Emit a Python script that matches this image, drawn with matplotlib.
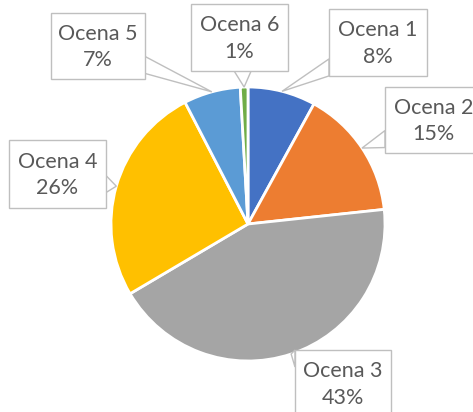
import numpy as np
import matplotlib
matplotlib.use('Agg')
import matplotlib.pyplot as plt
from matplotlib.patches import Rectangle, Polygon

# dane
labels = ['Ocena 1', 'Ocena 2', 'Ocena 3', 'Ocena 4', 'Ocena 5', 'Ocena 6']
values = [8.0, 15.3, 43.2, 25.9, 6.7, 0.9]
colors = ['#4472C4', '#ED7D31', '#A5A5A5', '#FFC000', '#5B9BD5', '#70AD47']

# ramki etykiet w pikselach (x0, y0, x1, y1), y liczone od gory
boxes = [(329, 9, 427, 76), (385, 87, 482, 153), (295, 350, 391, 417),
         (9, 140, 106, 208), (51, 13, 145, 79), (191, 4, 288, 71)]

W, H = 473, 412
cx, cy, r = 248, 224, 137

fig = plt.figure(figsize=(W / 100, H / 100), dpi=100)
ax = fig.add_axes([0, 0, 1, 1])

wedges, _ = ax.pie(values, colors=colors, startangle=90, counterclock=False,
                   center=(cx, H - cy), radius=r,
                   wedgeprops=dict(edgecolor='white', linewidth=2))
ax.set_xlim(0, W)
ax.set_ylim(0, H)
ax.set_aspect('equal')
ax.axis('off')

total = sum(values)
edge = '#BFBFBF'
for w, lab, val, (x0, y0, x1, y1) in zip(wedges, labels, values, boxes):
    ang = np.deg2rad((w.theta1 + w.theta2) / 2)
    tip = np.array([cx + r * np.cos(ang), H - cy + r * np.sin(ang)])
    bx0, bx1 = x0, x1
    by0, by1 = H - y1, H - y0
    c = np.array([(bx0 + bx1) / 2, (by0 + by1) / 2])
    d = tip - c
    # ktora krawedz ramki patrzy na wycinek
    tx = ((bx1 if d[0] > 0 else bx0) - c[0]) / d[0] if d[0] != 0 else np.inf
    ty = ((by1 if d[1] > 0 else by0) - c[1]) / d[1] if d[1] != 0 else np.inf
    hw = 8.5
    if tx < ty:
        xs = bx1 if d[0] > 0 else bx0
        yy = np.clip(c[1] + tx * d[1], by0 + hw, by1 - hw)
        p1, p2 = (xs, yy - hw), (xs, yy + hw)
    else:
        ys = by1 if d[1] > 0 else by0
        xx = np.clip(c[0] + ty * d[0], bx0 + hw, bx1 - hw)
        p1, p2 = (xx - hw, ys), (xx + hw, ys)
    ax.add_patch(Polygon([p1, tip, p2], closed=True, facecolor='white',
                         edgecolor=edge, linewidth=1, zorder=3))
    ax.add_patch(Rectangle((bx0, by0), bx1 - bx0, by1 - by0, facecolor='white',
                           edgecolor=edge, linewidth=1, zorder=4))
    ax.text(c[0], c[1] - 1, f'{lab}\n{round(val / total * 100):.0f}%', ha='center',
            va='center', fontsize=15.5, family='Lato', color='#595959',
            linespacing=1.38, zorder=5)

fig.savefig('out.png', dpi=100)
